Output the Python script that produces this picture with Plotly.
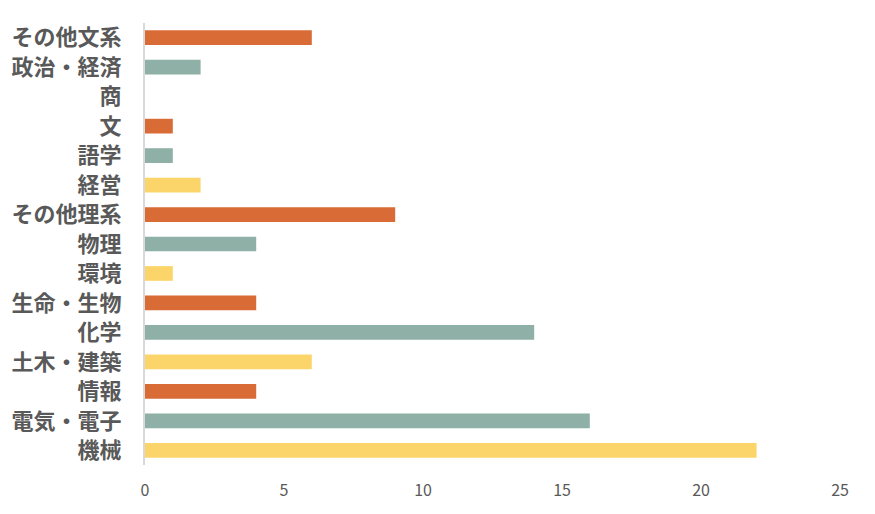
import plotly.graph_objects as go

categories = ["機械", "電気・電子", "情報", "土木・建築", "化学", "生命・生物", "環境",
              "物理", "その他理系", "経営", "語学", "文", "商", "政治・経済", "その他文系"]
values = [22, 16, 4, 6, 14, 4, 1, 4, 9, 2, 1, 1, 0, 2, 6]
palette = ["#FCD56A", "#8EB0A6", "#D86B36"]
colors = [palette[i % 3] for i in range(len(categories))]
x_ticks = [0, 5, 10, 15, 20, 25]

fig = go.Figure(go.Bar(
    x=values, y=categories, orientation="h",
    marker=dict(color=colors, line=dict(width=0)),
    width=0.5,
))

fig.update_layout(
    width=875, height=514,
    margin=dict(l=137, r=43, t=15, b=57),
    paper_bgcolor="white", plot_bgcolor="white",
    showlegend=False,
    font=dict(family="Noto Sans CJK JP", color="#595959"),
)
fig.update_xaxes(
    range=[0, 25], tickvals=x_ticks, showgrid=False, zeroline=False,
    showline=False, ticks="", tickfont=dict(size=16, color="#595959"),
    ticklabelstandoff=14, automargin=False,
)
fig.update_yaxes(
    type="category", categoryorder="array", categoryarray=categories,
    range=[-0.5, len(categories) - 0.5],
    showgrid=False, zeroline=False, showline=True, linecolor="#D9D9D9", linewidth=2,
    ticks="", tickfont=dict(size=22, color="#595959", weight="bold"),
    ticklabelstandoff=17, automargin=False,
)

fig.write_html("out.html")
